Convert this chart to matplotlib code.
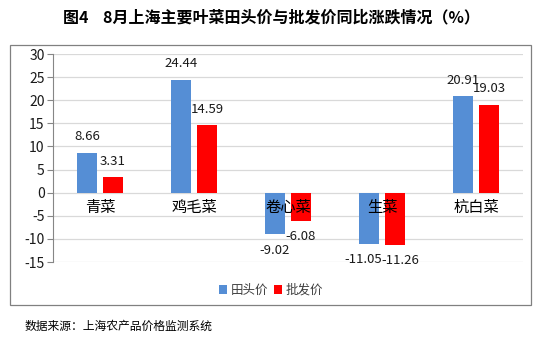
import numpy as np
import matplotlib
matplotlib.use("Agg")
import matplotlib.pyplot as plt
from matplotlib.patches import Rectangle

plt.rcParams["font.family"] = ["Noto Sans CJK SC", "DejaVu Sans"]
plt.rcParams["axes.unicode_minus"] = False

categories = ["青菜", "鸡毛菜", "卷心菜", "生菜", "杭白菜"]
field_price = [8.66, 24.44, -9.02, -11.05, 20.91]      # 田头价
wholesale_price = [3.31, 14.59, -6.08, -11.26, 19.03]  # 批发价
yticks = [-15, -10, -5, 0, 5, 10, 15, 20, 25, 30]

BLUE = "#558ed5"; RED = "#ff0000"; GRID = "#d9d9d9"; AXIS = "#868686"

W, H = 542, 341
fig = plt.figure(figsize=(W / 100, H / 100), dpi=100)

# outer frame of the chart box
fig.add_artist(Rectangle((10 / W, 1 - 305 / H), 521 / W, 260 / H, transform=fig.transFigure,
                         fill=False, edgecolor="#808080", lw=0.9))

ax = fig.add_axes([53 / W, 1 - 262 / H, 470 / W, 208 / H])
x = np.arange(len(categories))
off, bw = 0.138, 0.213
b1 = ax.bar(x - off, field_price, bw, color=BLUE, label="田头价", zorder=2)
b2 = ax.bar(x + off, wholesale_price, bw, color=RED, label="批发价", zorder=2)

for side, bars, vals, other in [(-1, b1, field_price, wholesale_price),
                                (1, b2, wholesale_price, field_price)]:
    for b, v, o in zip(bars, vals, other):
        # labels of two nearly equal bars would collide: push them apart a little
        dx = side * 4 if abs(v - o) < 1 else 0
        ax.annotate(f"{v:.2f}", (b.get_x() + b.get_width() / 2, v),
                    xytext=(dx, 11.5 if v > 0 else -11.5), textcoords="offset points",
                    ha="center", va="center", fontsize=9.5, color="#1a1a1a")

for i, c in enumerate(categories):
    ax.text(i, -1.4, c, ha="center", va="top", fontsize=11, color="black", zorder=3)

ax.set_xlim(-0.5, len(categories) - 0.5)
ax.set_ylim(-15, 30)
ax.set_yticks(yticks)
ax.set_yticklabels([str(t) for t in yticks], fontsize=10, color="#1a1a1a")
ax.set_xticks([])
ax.yaxis.grid(True, color=GRID, lw=0.9, zorder=0)
ax.set_axisbelow(True)
for s in ["top", "right", "bottom"]:
    ax.spines[s].set_visible(False)
ax.spines["left"].set_color(AXIS)
ax.tick_params(axis="y", length=4, color=AXIS, pad=2)

fig.legend(handles=[b1, b2], loc="center", bbox_to_anchor=(271 / W, 1 - 290 / H), ncol=2,
           frameon=False, fontsize=9, handlelength=0.7, handleheight=0.7, handletextpad=0.3,
           columnspacing=0.4, labelcolor="#404040")

fig.text(271 / W, 1 - 17 / H, "图4    8月上海主要叶菜田头价与批发价同比涨跌情况（%）",
         ha="center", va="center", fontsize=11.5, weight="bold")
fig.text(25 / W, 1 - 326 / H, "数据来源：上海农产品价格监测系统", ha="left", va="center", fontsize=8.5)

fig.savefig("out.png", dpi=100)
